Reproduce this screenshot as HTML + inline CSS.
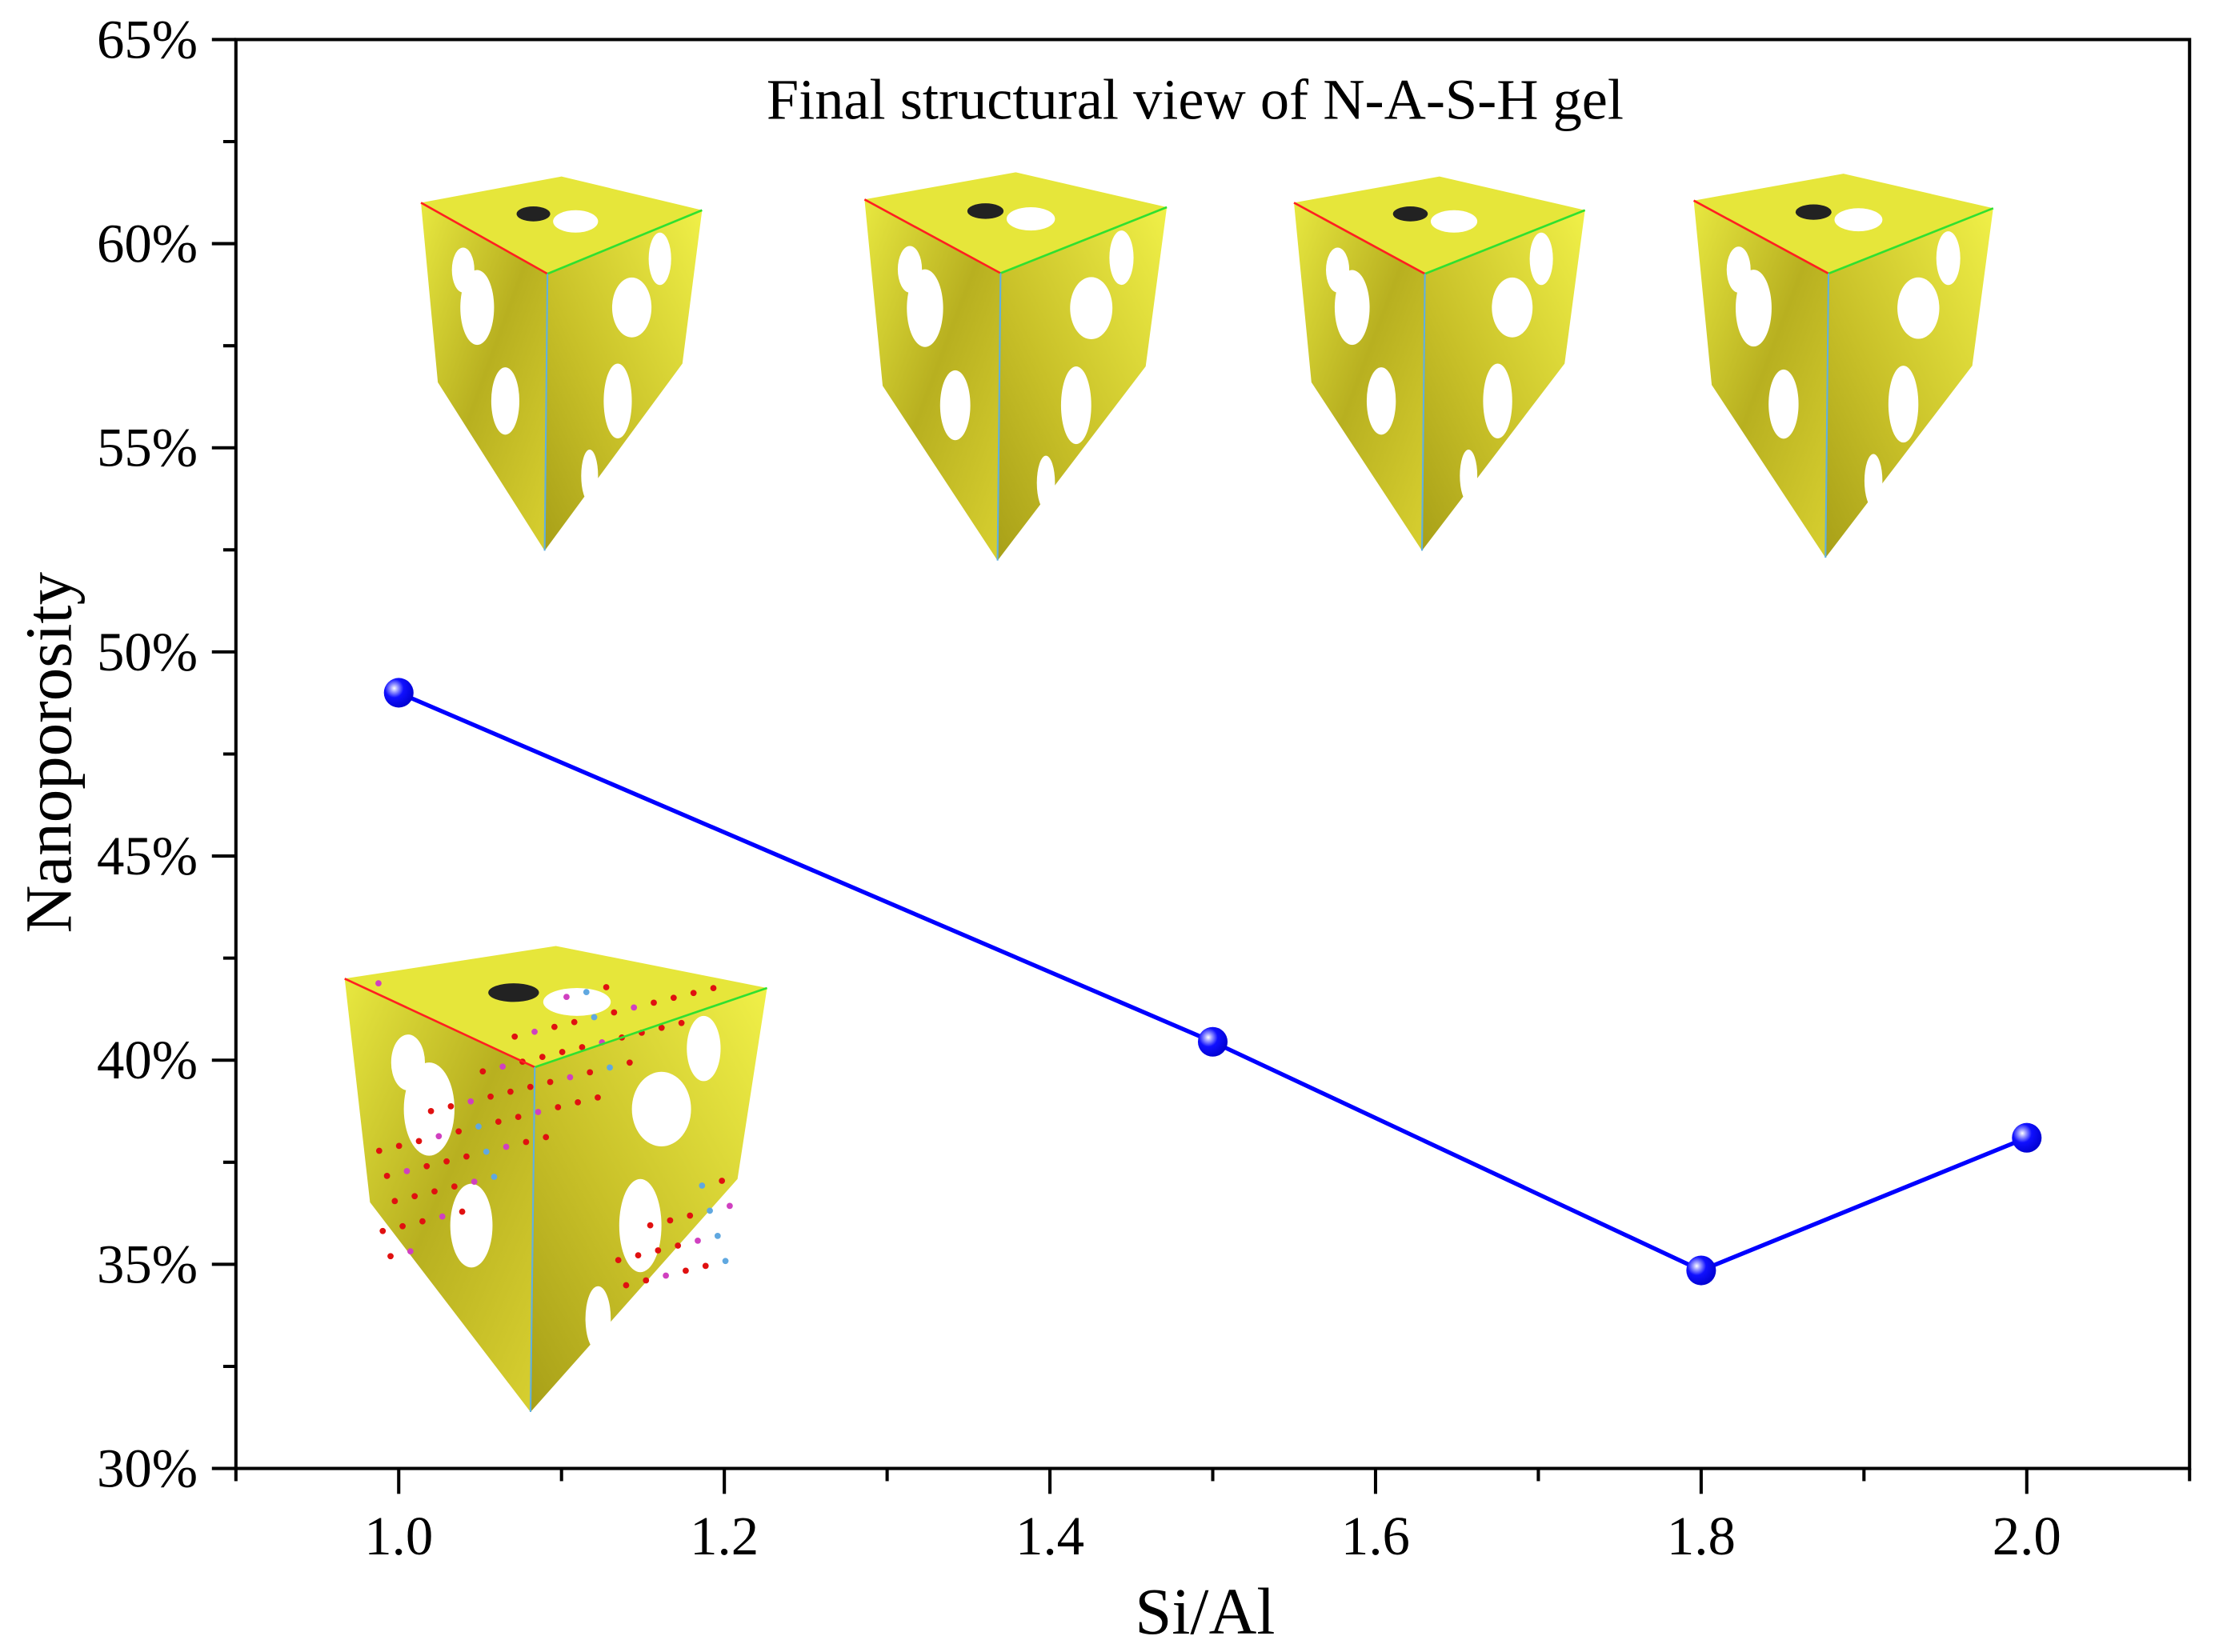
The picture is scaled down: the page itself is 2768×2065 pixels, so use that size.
<!DOCTYPE html>
<html><head><meta charset="utf-8"><style>html,body{margin:0;padding:0;background:#fff}svg{display:block}</style></head>
<body>
<svg id="chart" width="2768" height="2065" viewBox="0 0 1568 1170" preserveAspectRatio="none" xmlns="http://www.w3.org/2000/svg" font-family="'Liberation Serif', serif">
<defs>
<radialGradient id="ball" cx="0.35" cy="0.35" r="0.7">
<stop offset="0" stop-color="#ffffff"/><stop offset="0.18" stop-color="#9a9aff"/><stop offset="0.45" stop-color="#1010ff"/><stop offset="1" stop-color="#0000d0"/>
</radialGradient>
<linearGradient id="yl" x1="0" y1="0" x2="1" y2="1">
<stop offset="0" stop-color="#e8e840"/><stop offset="0.5" stop-color="#b8b020"/><stop offset="1" stop-color="#d8d030"/>
</linearGradient>
<linearGradient id="yr" x1="1" y1="0" x2="0" y2="1">
<stop offset="0" stop-color="#f0f048"/><stop offset="0.6" stop-color="#c8c028"/><stop offset="1" stop-color="#a8a018"/>
</linearGradient>
</defs>
<g id="insets"></g>
<g id="axes"></g>
<g id="series"></g>
<text x="846" y="84" font-size="41" text-anchor="middle">Final structural view of N-A-S-H gel</text>
<text x="853" y="1157" font-size="47" text-anchor="middle">Si/Al</text>
<text transform="translate(50,533) rotate(-90)" font-size="47" text-anchor="middle">Nanoporosity</text>
</svg>
<script>
const categories = [1.0, 1.5, 1.8, 2.0];
const porosity = [49.0, 40.45, 34.85, 38.1];
const yTicks = [30, 35, 40, 45, 50, 55, 60, 65];
const xTicks = [1.0, 1.2, 1.4, 1.6, 1.8, 2.0];
const xTickLabels = ["1.0", "1.2", "1.4", "1.6", "1.8", "2.0"];

const NS = "http://www.w3.org/2000/svg";
const L = 167, R = 1550, T = 28, B = 1040;
const xMin = 0.9, xMax = 2.1, yMin = 30, yMax = 65;
function xs(v){ return L + (v - xMin) / (xMax - xMin) * (R - L); }
function ys(v){ return B - (v - yMin) / (yMax - yMin) * (B - T); }
function mk(tag, attrs, parent){ const e = document.createElementNS(NS, tag); for (const k in attrs) e.setAttribute(k, attrs[k]); parent.appendChild(e); return e; }

const axes = document.getElementById('axes');
const frame = mk('rect', {x:L, y:T, width:R-L, height:B-T, fill:'none', stroke:'#000', 'stroke-width':2.3}, axes);


yTicks.forEach((v, i) => {
  const y = ys(v);
  const t = mk('line', {x1:L-17, x2:L, y1:y, y2:y, stroke:'#000', 'stroke-width':2.3}, axes);
  
  
  const lb = mk('text', {x:140, y:y+13, 'font-size':39, 'text-anchor':'end'}, axes);
  lb.textContent = v + '%';
  
  
  if (i < yTicks.length - 1) {
    const ym = ys(v + 2.5);
    const m = mk('line', {x1:L-9, x2:L, y1:ym, y2:ym, stroke:'#000', 'stroke-width':2.3}, axes);
    
    
  }
});
for (let k = 0; k <= 12; k++) {
  const v = 0.9 + k * 0.1;
  const x = xs(v);
  const major = xTicks.some(t => Math.abs(t - v) < 1e-6);
  const t = mk('line', {x1:x, x2:x, y1:B, y2:B + (major ? 18 : 9), stroke:'#000', 'stroke-width':2.3}, axes);
  
  
}
xTicks.forEach((v, i) => {
  const lb = mk('text', {x:xs(v), y:1101, 'font-size':39, 'text-anchor':'middle'}, axes);
  lb.textContent = xTickLabels[i];
  
  
});

const series = document.getElementById('series');
const pts = categories.map((c, i) => xs(c) + ',' + ys(porosity[i])).join(' ');
const line = mk('polyline', {points:pts, fill:'none', stroke:'#0000ff', 'stroke-width':3}, series);


categories.forEach((c, i) => {
  const p = mk('circle', {cx:xs(c), cy:ys(porosity[i]), r:10.5, fill:'url(#ball)'}, series);
  
  
});

const insets = document.getElementById('insets');
function cube(x, y, w, h, name, dots){
  const g = mk('g', {}, insets);
  
  
  const tl=[x,y+0.07*h], tc=[x+0.45*w,y+0.26*h], tr=[x+w,y+0.09*h], bk=[x+0.5*w,y], bt=[x+0.44*w,y+h];
  const lb=[x+0.06*w,y+0.55*h], rb=[x+0.93*w,y+0.5*h];
  const P = a => a.map(p => p.join(',')).join(' ');
  mk('polygon', {points:P([tl,tc,bt,lb]), fill:'url(#yl)'}, g);
  mk('polygon', {points:P([tc,tr,rb,bt]), fill:'url(#yr)'}, g);
  mk('polygon', {points:P([tl,bk,tr,tc]), fill:'#e6e63a'}, g);
  const holes = [[0.2,0.35,0.06,0.1],[0.75,0.35,0.07,0.08],[0.3,0.6,0.05,0.09],[0.7,0.6,0.05,0.1],[0.55,0.12,0.08,0.03],[0.15,0.25,0.04,0.06],[0.85,0.22,0.04,0.07],[0.6,0.8,0.03,0.07]];
  holes.forEach(hh => mk('ellipse', {cx:x+hh[0]*w, cy:y+hh[1]*h, rx:hh[2]*w, ry:hh[3]*h, fill:'#fff'}, g));
  mk('ellipse', {cx:x+0.4*w, cy:y+0.1*h, rx:0.06*w, ry:0.02*h, fill:'#222'}, g);
  if (dots) {
    for (let i = 0; i < 90; i++) {
      const u = (i * 0.618) % 1, v = (i * 0.377) % 1;
      const px = x + 0.08*w + u*0.84*w, py = y + 0.08*h + v*0.65*h;
      mk('circle', {cx:px, cy:py, r:2.2, fill: i%5===0 ? '#d040c0' : (i%7===0 ? '#60a8e0' : '#e01010')}, g);
    }
  }
  mk('line', {x1:tl[0], y1:tl[1], x2:tc[0], y2:tc[1], stroke:'#ff2020', 'stroke-width':1.5}, g);
  mk('line', {x1:tc[0], y1:tc[1], x2:tr[0], y2:tr[1], stroke:'#30e030', 'stroke-width':1.5}, g);
  mk('line', {x1:tc[0], y1:tc[1], x2:bt[0], y2:bt[1], stroke:'#60b0e0', 'stroke-width':1.2}, g);
}
cube(298, 125, 199, 265, 'cube-si-al-1-0', false);
cube(612, 122, 214, 275, 'cube-si-al-1-5', false);
cube(916, 125, 206, 265, 'cube-si-al-1-8', false);
cube(1199, 123, 212, 272, 'cube-si-al-2-0', false);
cube(244, 670, 299, 330, 'cube-with-atoms', true);
</script>
</body></html>
